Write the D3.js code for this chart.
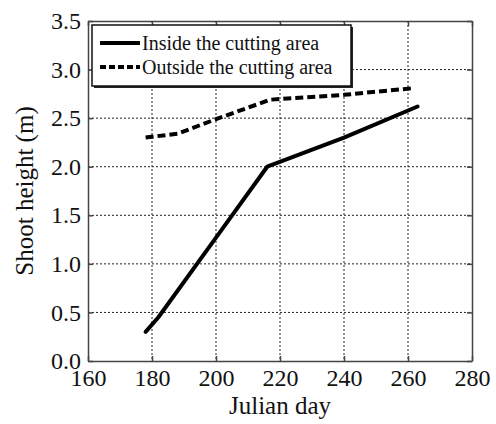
<html>
<head>
<style>
    body { margin: 0; background: #fff; }
</style>
</head>
<body>
    <svg id="container" width="496" height="424"></svg>
</body>
<script src="https://cdn.jsdelivr.net/npm/d3@7"></script>
<script>
    // values
    let insideDays = [178, 182, 200, 216, 240, 263]
    let insideHeight = [0.30, 0.45, 1.27, 2.00, 2.30, 2.62]
    let outsideDays = [178, 188, 200, 217, 240, 262]
    let outsideHeight = [2.30, 2.34, 2.49, 2.69, 2.74, 2.81]
    let xTicks = [160, 180, 200, 220, 240, 260, 280]
    let yTicks = [0, 0.5, 1.0, 1.5, 2.0, 2.5, 3.0, 3.5]
    let seriesNames = ["Inside the cutting area", "Outside the cutting area"]

    let serif = "'Liberation Serif', 'Times New Roman', serif"
    let plotLeft = 88, plotRight = 472, plotTop = 21, plotBottom = 361
    let svg = d3.select("#container")

    let x = d3.scaleLinear().domain([160, 280]).range([plotLeft, plotRight])
    let y = d3.scaleLinear().domain([0, 3.5]).range([plotBottom, plotTop])

    // grid
    svg.append("g").selectAll("line").data(xTicks.slice(1, -1)).enter()
        .append("line")
        .attr("x1", d => x(d)).attr("x2", d => x(d))
        .attr("y1", plotTop).attr("y2", plotBottom)
        .attr("stroke", "#222").attr("stroke-width", 1)
        .attr("stroke-dasharray", "2,2")
    svg.append("g").selectAll("line").data(yTicks.slice(1, -1)).enter()
        .append("line")
        .attr("y1", d => y(d)).attr("y2", d => y(d))
        .attr("x1", plotLeft).attr("x2", plotRight)
        .attr("stroke", "#222").attr("stroke-width", 1)
        .attr("stroke-dasharray", "2,2")

    // axes
    let xAxis = svg.append("g")
        .attr("transform", `translate(0,${plotBottom})`)
        .call(d3.axisBottom(x).tickValues(xTicks).tickSizeInner(-5).tickSizeOuter(0).tickPadding(8))
    let yAxis = svg.append("g")
        .attr("transform", `translate(${plotLeft},0)`)
        .call(d3.axisLeft(y).tickValues(yTicks).tickFormat(d3.format(".1f")).tickSizeInner(-5).tickSizeOuter(0).tickPadding(7))
    svg.append("g")
        .attr("transform", `translate(0,${plotTop})`)
        .call(d3.axisTop(x).tickValues(xTicks).tickSizeInner(-5).tickSizeOuter(0).tickFormat(""))
    svg.append("g")
        .attr("transform", `translate(${plotRight},0)`)
        .call(d3.axisRight(y).tickValues(yTicks).tickSizeInner(-5).tickSizeOuter(0).tickFormat(""))

    svg.selectAll(".domain, .tick line").attr("stroke", "#444").attr("stroke-width", 1.5)
    svg.selectAll(".tick text")
        .style("font-family", serif).style("font-size", "24px").style("fill", "#111")

    // axis titles
    svg.append("text")
        .attr("x", (plotLeft + plotRight) / 2).attr("y", 414)
        .attr("text-anchor", "middle")
        .style("font-family", serif).style("font-size", "25px").style("fill", "#111")
        .text("Julian day")
    svg.append("text")
        .attr("transform", `translate(33,${(plotTop + plotBottom) / 2}) rotate(-90)`)
        .attr("text-anchor", "middle")
        .style("font-family", serif).style("font-size", "25px").style("fill", "#111")
        .text("Shoot height (m)")

    // series
    let line = d3.line().x(d => x(d[0])).y(d => y(d[1]))
    svg.append("path")
        .datum(d3.zip(insideDays, insideHeight))
        .attr("d", line)
        .attr("fill", "none").attr("stroke", "#000").attr("stroke-width", 4)
        .attr("stroke-linejoin", "round").attr("stroke-linecap", "round")
    svg.append("path")
        .datum(d3.zip(outsideDays, outsideHeight))
        .attr("d", line)
        .attr("fill", "none").attr("stroke", "#000").attr("stroke-width", 4)
        .attr("stroke-dasharray", "8,4")

    // legend
    let legend = svg.append("g")
    legend.append("rect")
        .attr("x", 94).attr("y", 27).attr("width", 259).attr("height", 61)
        .attr("fill", "#222")
    legend.append("rect")
        .attr("x", 92).attr("y", 25).attr("width", 259).attr("height", 61)
        .attr("fill", "#fff").attr("stroke", "#111").attr("stroke-width", 1.5)
    let rows = legend.selectAll("g.row").data(seriesNames).enter()
        .append("g")
        .attr("transform", (d, i) => `translate(0,${43 + i * 24})`)
    rows.append("line")
        .attr("x1", 100).attr("x2", 140).attr("y1", 0).attr("y2", 0)
        .attr("stroke", "#000").attr("stroke-width", 4)
        .attr("stroke-dasharray", (d, i) => i == 1 ? "6,3" : null)
    rows.append("text")
        .attr("x", 142).attr("y", 7)
        .style("font-family", serif).style("font-size", "20px").style("fill", "#111")
        .text(d => d)
</script>
</html>
